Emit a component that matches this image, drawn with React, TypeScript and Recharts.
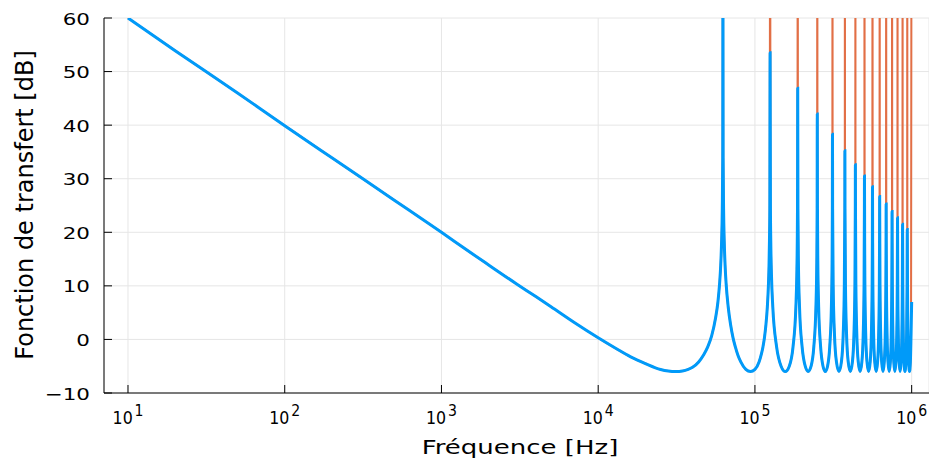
import { LineChart, Line, XAxis, YAxis, CartesianGrid, Label } from "recharts";

// frequencies [Hz] of the sampled curve
const freqHz = [
  10, 20, 50, 100, 200, 500, 1000, 1500, 2000, 3000, 4000, 5000, 7000, 10000, 13000, 16000, 20000,
  25000, 28000, 31250, 34500, 37500, 40000, 43750, 47000, 50000, 53000, 56000, 58000, 59500, 60500,
  61300, 61900, 62300, 62500,
  62700, 63100, 63700, 64500, 65500, 67500, 70000, 72500, 75000, 78000, 81250, 87500, 93750, 100000,
  106250, 110000, 112500, 115000, 117500, 120000, 122000, 123000, 123800, 124400, 125000,
  125600, 126200, 127500, 130000, 137500, 146875, 156250, 165625, 175000, 182500, 185000, 186300, 186900, 187500,
  188100, 189400, 192500, 200000, 209375, 218750, 228125, 237500, 245000, 248100, 249400, 250000,
  250600, 251900, 255000, 262500, 271875, 281250, 290625, 300000, 307500, 310600, 311900, 312500,
  313100, 315625, 321875, 331250, 343750, 356250, 365625, 371875, 374400, 375000,
  375600, 378125, 384375, 393750, 406250, 418750, 428125, 434375, 436900, 437500,
  438100, 440625, 446875, 456250, 468750, 481250, 490625, 496875, 499400, 500000,
  501250, 503125, 509375, 518750, 531250, 543750, 553125, 559375, 561250, 562500,
  563750, 565625, 571875, 581250, 593750, 606250, 615625, 621875, 623750, 625000,
  626250, 628125, 634375, 643750, 656250, 668750, 678125, 684375, 686250, 687500,
  688750, 690625, 696875, 706250, 718750, 731250, 740625, 746875, 748750, 750000,
  751250, 753125, 759375, 768750, 781250, 793750, 803125, 809375, 811250, 812500,
  813750, 815625, 821875, 831250, 843750, 856250, 865625, 871875, 873750, 875000,
  876250, 878125, 884375, 893750, 906250, 918750, 928125, 934375, 936250, 937500,
  938750, 940625, 946875, 956250, 968750, 981250, 990625, 1000000,
];

// sampled transfer function [dB]
const gainDb = [
  60.0, 53.9, 46.0, 39.9, 33.9, 26.0, 20.0, 16.4, 13.9, 10.4, 8.0, 6.1, 3.2, 0.3, -1.7, -3.2, -4.5,
  -5.6, -5.9, -6.0, -5.9, -5.6, -5.2, -4.2, -2.9, -1.4, 0.7, 3.9, 6.9, 10.4, 13.9,
  18.4, 24.4, 33.9, 66.0,
  33.9, 24.4, 18.4, 13.9, 10.4, 6.1, 2.7, 0.3, -1.4, -3.0, -4.2, -5.6, -6.0, -5.6,
  -4.2, -2.7, -1.4, 0.3, 2.7, 6.1, 10.4, 13.9, 18.4, 24.4, 53.5,
  24.4, 18.4, 12.0, 6.1, -1.4, -5.0, -6.0, -5.0, -1.4, 6.1, 12.0, 18.4, 24.4, 46.9,
  24.4, 14.4, 6.1, -1.4, -5.0, -6.0, -5.0, -1.4, 6.1, 14.4, 24.4, 42.1,
  24.4, 14.4, 6.1, -1.4, -5.0, -6.0, -5.0, -1.4, 6.1, 14.4, 24.4, 38.3,
  24.4, 10.1, 0.8, -4.2, -6.0, -4.2, 0.8, 10.1, 24.4, 35.2,
  24.4, 10.1, 0.8, -4.2, -6.0, -4.2, 0.8, 10.1, 24.4, 32.6,
  24.4, 10.1, 0.8, -4.2, -6.0, -4.2, 0.8, 10.1, 24.4, 30.5,
  18.0, 10.1, 0.8, -4.2, -6.0, -4.2, 0.8, 10.1, 18.0, 28.5,
  18.0, 10.1, 0.8, -4.2, -6.0, -4.2, 0.8, 10.1, 18.0, 26.7,
  18.0, 10.1, 0.8, -4.2, -6.0, -4.2, 0.8, 10.1, 18.0, 25.3,
  18.0, 10.1, 0.8, -4.2, -6.0, -4.2, 0.8, 10.1, 18.0, 23.9,
  18.0, 10.1, 0.8, -4.2, -6.0, -4.2, 0.8, 10.1, 18.0, 22.7,
  18.0, 10.1, 0.8, -4.2, -6.0, -4.2, 0.8, 10.1, 18.0, 21.5,
  18.0, 10.1, 0.8, -4.2, -6.0, -4.2, 0.8, 10.1, 18.0, 20.5,
  18.0, 10.1, 0.8, -4.2, -6.0, -4.2, 0.8, 7.0,
];

// resonances where the exact curve goes off the top
const resonanceHz = [
  62500, 125000, 187500, 250000, 312500, 375000, 437500, 500000,
  562500, 625000, 687500, 750000, 812500, 875000, 937500, 1000000,
];
const offScaleDb = 120;

const xTicks = [10, 100, 1000, 10000, 100000, 1000000];
const yTicks = [-10, 0, 10, 20, 30, 40, 50, 60];

const data = freqHz.map((f, i) => ({
  f,
  sampled: gainDb[i],
  exact: resonanceHz.includes(f) ? offScaleDb : gainDb[i],
}));

const FONT = "DejaVu Sans";

const XTick = (props: any) => {
  const { x, y, payload } = props;
  const exp = Math.round(Math.log10(payload.value));
  return (
    <g>
      <line x1={x} x2={x} y1={y} y2={y - 8} stroke="#000" strokeWidth={1} />
      <g transform={`translate(${x},${y + 31}) scale(0.88,1)`}>
        <text x={0} y={0} textAnchor="middle" fontSize={18} fontFamily={FONT} fill="#000">
          10
          <tspan dx={2} dy={-7.6} fontSize={16}>
            {exp}
          </tspan>
        </text>
      </g>
    </g>
  );
};

const YTick = (props: any) => {
  const { x, y, payload } = props;
  const v = payload.value;
  return (
    <g>
      <line x1={x} x2={x + 8} y1={y} y2={y} stroke="#000" strokeWidth={1} />
      <g transform={`translate(${x - 14},${y + 6.5}) scale(1.3,1)`}>
        <text x={0} y={0} textAnchor="end" fontSize={16.5} fontFamily={FONT} fill="#000">
          {v < 0 ? `\u2212${-v}` : v}
        </text>
      </g>
    </g>
  );
};

export default function App() {
  return (
    <div style={{ position: "absolute", left: 0, top: 0, width: 929, height: 466, background: "#fff" }}>
      <LineChart width={929} height={466} data={data} margin={{ top: 18, right: 0, bottom: 0, left: 0 }}>
        <CartesianGrid stroke="#e6e6e6" strokeWidth={1} />
        <XAxis
          dataKey="f"
          type="number"
          scale="log"
          domain={[7.03, 1290000]}
          allowDataOverflow
          ticks={xTicks}
          interval={0}
          height={73}
          tickSize={0}
          tickMargin={0}
          tickLine={false}
          axisLine={{ stroke: "#000", strokeWidth: 1 }}
          tick={XTick}
        >
          <Label
            content={() => (
              <g transform="translate(520,454) scale(1.3,1)">
                <text x={0} y={0} textAnchor="middle" fontSize={20} fontFamily={FONT} fill="#000">
                  Fréquence [Hz]
                </text>
              </g>
            )}
          />
        </XAxis>
        <YAxis
          type="number"
          domain={[-10, 60]}
          allowDataOverflow
          ticks={yTicks}
          interval={0}
          width={104}
          tickSize={0}
          tickMargin={0}
          tickLine={false}
          axisLine={{ stroke: "#000", strokeWidth: 1 }}
          tick={YTick}
        >
          <Label
            content={() => (
              <text
                transform="rotate(-90)"
                x={-205}
                y={33}
                textAnchor="middle"
                fontSize={24}
                fontFamily={FONT}
                fill="#000"
              >
                Fonction de transfert [dB]
              </text>
            )}
          />
        </YAxis>
        <Line
          dataKey="exact"
          type="monotone"
          stroke="#e26f46"
          strokeWidth={2}
          dot={false}
          isAnimationActive={false}
        />
        <Line
          dataKey="sampled"
          type="monotone"
          stroke="#009af9"
          strokeWidth={3}
          dot={false}
          isAnimationActive={false}
        />
      </LineChart>
    </div>
  );
}
